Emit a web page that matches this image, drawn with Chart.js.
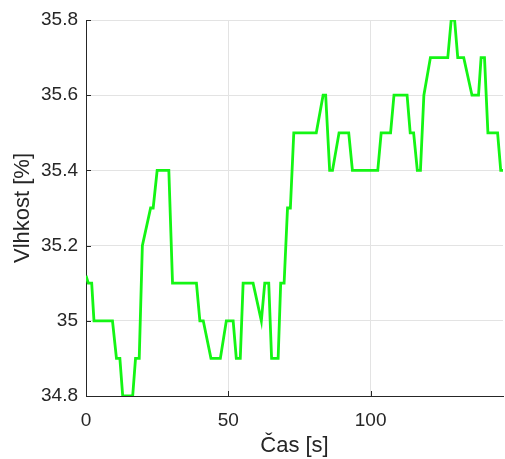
<!DOCTYPE html>
<html>
<head>
<meta charset="utf-8">
<script src="https://cdn.jsdelivr.net/npm/chart.js@4/dist/chart.umd.min.js"></script>
<style>
    html, body { margin: 0; padding: 0; background: #fff; }
    #wrap { width: 505px; height: 459px; }
</style>
</head>
<body>
<div id="wrap"><canvas id="humidityChart" width="505" height="459"></canvas></div>
<script>
const timeValues = [0, 0.8, 2.0, 2.8, 9.3, 10.7, 11.9, 12.9, 16.4, 17.4, 18.7, 19.8, 22.7, 23.6, 25.0, 29.1,
    30.4, 38.8, 40.0, 41.2, 43.9, 47.2, 49.3, 51.7, 52.8, 54.2, 55.2, 58.7, 61.6, 62.8, 64.2, 65.2, 67.5,
    68.4, 69.6, 70.8, 71.8, 73.0, 80.9, 83.3, 84.2, 85.6, 86.6, 88.9, 92.3, 93.6, 102.5, 103.7, 107.0,
    108.2, 112.8, 113.9, 115.1, 116.4, 117.5, 118.7, 121.0, 127.1, 128.3, 129.5, 130.6, 132.7, 135.6,
    137.9, 138.8, 140.0, 141.2, 144.6, 145.7, 146.5];
const humidityValues = [35.12, 35.1, 35.1, 35.0, 35.0, 34.9, 34.9, 34.8, 34.8, 34.9, 34.9, 35.2, 35.3, 35.3, 35.4, 35.4,
    35.1, 35.1, 35.0, 35.0, 34.9, 34.9, 35.0, 35.0, 34.9, 34.9, 35.1, 35.1, 35.0, 35.1, 35.1, 34.9, 34.9,
    35.1, 35.1, 35.3, 35.3, 35.5, 35.5, 35.6, 35.6, 35.4, 35.4, 35.5, 35.5, 35.4, 35.4, 35.5, 35.5,
    35.6, 35.6, 35.5, 35.5, 35.4, 35.4, 35.6, 35.7, 35.7, 35.8, 35.8, 35.7, 35.7, 35.6,
    35.6, 35.7, 35.7, 35.5, 35.5, 35.4, 35.4];
const xTicks = [0, 50, 100];
const yTicks = [34.8, 35.0, 35.2, 35.4, 35.6, 35.8];

const points = timeValues.map((t, i) => ({ x: t, y: humidityValues[i] }));

// Short inward tick marks, like the original figure
const inwardTicks = {
    id: 'inwardTicks',
    afterDraw(chart) {
        const ctx = chart.ctx;
        const area = chart.chartArea;
        const xs = chart.scales.x;
        const ys = chart.scales.y;
        ctx.save();
        ctx.strokeStyle = '#262626';
        ctx.lineWidth = 1;
        ctx.beginPath();
        xTicks.forEach(v => {
            const px = Math.round(xs.getPixelForValue(v)) + 0.5;
            ctx.moveTo(px, area.bottom);
            ctx.lineTo(px, area.bottom - 5);
        });
        yTicks.forEach(v => {
            const py = Math.round(ys.getPixelForValue(v)) + 0.5;
            ctx.moveTo(area.left, py);
            ctx.lineTo(area.left + 5, py);
        });
        ctx.stroke();
        ctx.restore();
    }
};

const font = { family: "'Liberation Sans', Arial, sans-serif", size: 19 };

new Chart(document.getElementById('humidityChart'), {
    type: 'line',
    data: {
        datasets: [{
            data: points,
            borderColor: '#14f514',
            borderWidth: 2.8,
            pointRadius: 0,
            tension: 0,
            fill: false
        }]
    },
    options: {
        responsive: false,
        animation: false,
        layout: { padding: { top: 20, right: 2, left: 0, bottom: 0 } },
        plugins: { legend: { display: false }, tooltip: { enabled: false } },
        scales: {
            x: {
                type: 'linear',
                min: 0,
                max: 146.5,
                afterBuildTicks: s => { s.ticks = xTicks.map(v => ({ value: v })); },
                afterFit: s => { s.height = 63; },
                ticks: { color: '#262626', font: font, padding: 13, maxRotation: 0 },
                grid: { color: '#e3e3e3', lineWidth: 1, drawTicks: false },
                border: { color: '#262626', width: 1 },
                title: {
                    display: true,
                    text: 'Čas [s]',
                    color: '#262626',
                    font: { family: font.family, size: 22 },
                    padding: { top: 0, bottom: 0 }
                }
            },
            y: {
                min: 34.8,
                max: 35.8,
                afterBuildTicks: s => { s.ticks = yTicks.map(v => ({ value: v })); },
                afterFit: s => { s.width = 86; },
                ticks: {
                    color: '#262626',
                    font: font,
                    padding: 8,
                    callback: v => String(Number(v.toFixed(1)))
                },
                grid: { color: '#e3e3e3', lineWidth: 1, drawTicks: false },
                border: { color: '#262626', width: 1 },
                title: {
                    display: true,
                    text: 'Vlhkost [%]',
                    color: '#262626',
                    font: { family: font.family, size: 22 },
                    padding: { top: 10, bottom: 0 }
                }
            }
        }
    },
    plugins: [inwardTicks]
});
</script>
</body>
</html>
